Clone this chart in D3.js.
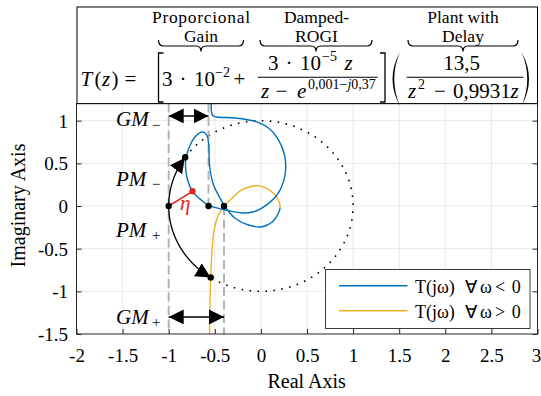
<!DOCTYPE html>
<html>
<head>
<meta charset="utf-8">
<script src="https://cdn.jsdelivr.net/npm/d3@7"></script>
<style>
  body { margin: 0; background: #fff; }
  svg { display: block; }
  text { font-family: "Liberation Serif", "Times New Roman", serif; fill: #000; }
</style>
</head>
<body>
<svg id="chart" width="541" height="396"></svg>
<script>
// Axis ticks
const xTicks = [-2, -1.5, -1, -0.5, 0, 0.5, 1, 1.5, 2, 2.5, 3];
const xTickLabels = ["-2", "-1.5", "-1", "-0.5", "0", "0.5", "1", "1.5", "2", "2.5", "3"];
const yTicks = [-1.5, -1, -0.5, 0, 0.5, 1];
const yTickLabels = ["-1.5", "-1", "-0.5", "0", "0.5", "1"];

// Nyquist locus T(e^{jω}) for ω < 0 (from ω = -π towards 0)
const negRe = [0.209, 0.191, 0.123, 0.014, -0.134, -0.279, -0.395, -0.441, -0.514, -0.555,
  -0.566, -0.582, -0.615, -0.653, -0.713, -0.767, -0.805, -0.818, -0.803, -0.742,
  -0.640, -0.566, -0.387, -0.206, -0.084, 0.014, 0.174, 0.245, 0.269, 0.256,
  0.191, 0.082, -0.062, -0.279, -0.474, -0.523, -0.537, -0.539, -0.539];
const negIm = [-0.018, -0.082, -0.188, -0.243, -0.223, -0.144, 0.000, 0.090, 0.246, 0.457,
  0.715, 0.821, 0.864, 0.862, 0.812, 0.715, 0.598, 0.481, 0.340, 0.172,
  0.064, 0.006, -0.047, -0.082, -0.070, -0.023, 0.129, 0.285, 0.445, 0.598,
  0.774, 0.914, 0.991, 1.032, 1.043, 1.061, 1.114, 1.243, 1.360];

// Nyquist locus T(e^{jω}) for ω > 0 (from ω = 0+ towards π)
const posRe = [-0.557, -0.557, -0.552, -0.542, -0.528, -0.507, -0.460, -0.395, -0.315, -0.206,
  -0.062, 0.047, 0.155, 0.202, 0.209];
const posIm = [-1.688, -1.501, -1.102, -0.785, -0.492, -0.281, -0.106, 0.000, 0.090, 0.188,
  0.238, 0.215, 0.129, 0.035, -0.018];

// Stability margins
const gmMinusRe = -0.568;     // crossing of the real axis, ω < 0
const gmPlusRe = -0.4;        // crossing of the real axis, ω > 0
const gmMinusArrowIm = 1.055;
const gmPlusArrowIm = -1.30;
const pmMinusAngle = 145.2;   // unit-circle crossing, degrees
const pmPlusAngle = -123;
const etaPoint = [-0.742, 0.172];

const legendLabels = ["T(jω) ∀ ω < 0", "T(jω) ∀ ω > 0"];
const colors = { neg: "#0072BD", pos: "#EDB120", eta: "#E3261F" };
const SERIF = "Liberation Serif, Times New Roman, serif";

const svg = d3.select("#chart");
const x = d3.scaleLinear().domain([-2, 3]).range([76.5, 537.5]);
const y = d3.scaleLinear().domain([-1.5, 1.2]).range([334, 103.6]);
const [x0, x1] = x.range();
const [y0, y1] = y.range();

const defs = svg.append("defs");
defs.append("clipPath").attr("id", "plotClip")
  .append("rect").attr("x", x0).attr("y", y1).attr("width", x1 - x0).attr("height", y0 - y1);
defs.append("marker").attr("id", "head")
  .attr("markerUnits", "userSpaceOnUse")
  .attr("markerWidth", 16).attr("markerHeight", 16)
  .attr("refX", 15).attr("refY", 7.5)
  .attr("orient", "auto-start-reverse")
  .append("path").attr("d", "M0,0 L15,7.5 L0,15 Z").attr("fill", "#000");

// Grid
const grid = svg.append("g");
grid.selectAll(".gx").data(xTicks.slice(1, -1)).join("line")
  .attr("x1", d => x(d)).attr("x2", d => x(d)).attr("y1", y0).attr("y2", y1)
  .attr("stroke", "#e4e4e4").attr("stroke-width", 0.8);
grid.selectAll(".gy").data(yTicks.slice(1)).join("line")
  .attr("y1", d => y(d)).attr("y2", d => y(d)).attr("x1", x0).attr("x2", x1)
  .attr("stroke", "#e4e4e4").attr("stroke-width", 0.8);

const plot = svg.append("g").attr("clip-path", "url(#plotClip)");

// Unit circle (dotted part)
const circ = a => [Math.cos(a * Math.PI / 180), Math.sin(a * Math.PI / 180)];
const lineXY = d3.line().x(d => x(d[0])).y(d => y(d[1]));
plot.append("path")
  .attr("d", lineXY(d3.range(pmMinusAngle, pmPlusAngle - 0.5, -1).map(circ)))
  .attr("fill", "none").attr("stroke", "#000").attr("stroke-width", 1.6)
  .attr("stroke-dasharray", "1.6,6.4");

// Dashed guides at -1 and the gain-margin crossings
const dashed = [[-1, 1.2, -1.5], [gmMinusRe, 1.2, 0], [gmPlusRe, 0, -1.5]];
plot.selectAll(".guide").data(dashed).join("line")
  .attr("x1", d => x(d[0])).attr("x2", d => x(d[0]))
  .attr("y1", d => y(d[1])).attr("y2", d => y(d[2]))
  .attr("stroke", "#b4b4b4").attr("stroke-width", 2).attr("stroke-dasharray", "9,4.5");

// Nyquist curves
const curve = d3.line().x(d => x(d[0])).y(d => y(d[1])).curve(d3.curveCatmullRom.alpha(0.5));
const negPts = negRe.map((r, i) => [r, negIm[i]]);
const posPts = posRe.map((r, i) => [r, posIm[i]]);
plot.append("path").attr("d", curve(posPts)).attr("fill", "none")
  .attr("stroke", colors.pos).attr("stroke-width", 1.4);
plot.append("path").attr("d", curve(negPts)).attr("fill", "none")
  .attr("stroke", colors.neg).attr("stroke-width", 1.4);

// Phase-margin arcs on the unit circle
plot.append("path")
  .attr("d", lineXY(d3.range(180, pmMinusAngle - 0.01, -0.5).map(circ)))
  .attr("fill", "none").attr("stroke", "#000").attr("stroke-width", 1.3)
  .attr("marker-end", "url(#head)");
plot.append("path")
  .attr("d", lineXY(d3.range(180, 360 + pmPlusAngle + 0.01, 0.5).map(circ)))
  .attr("fill", "none").attr("stroke", "#000").attr("stroke-width", 1.3)
  .attr("marker-end", "url(#head)");

// Gain-margin arrows
[[gmMinusRe, gmMinusArrowIm], [gmPlusRe, gmPlusArrowIm]].forEach(([re, im]) => {
  plot.append("line")
    .attr("x1", x(-1)).attr("x2", x(re)).attr("y1", y(im)).attr("y2", y(im))
    .attr("stroke", "#000").attr("stroke-width", 1.5)
    .attr("marker-start", "url(#head)").attr("marker-end", "url(#head)");
});

// Stability margin η
plot.append("line")
  .attr("x1", x(-1)).attr("y1", y(0)).attr("x2", x(etaPoint[0])).attr("y2", y(etaPoint[1]))
  .attr("stroke", colors.eta).attr("stroke-width", 1.5);

// Points
const blackDots = [[-1, 0], [gmMinusRe, 0], [gmPlusRe, 0], circ(pmMinusAngle), circ(pmPlusAngle)];
plot.selectAll(".dot").data(blackDots).join("circle")
  .attr("cx", d => x(d[0])).attr("cy", d => y(d[1])).attr("r", 3.2).attr("fill", "#000");
plot.append("circle").attr("cx", x(etaPoint[0])).attr("cy", y(etaPoint[1]))
  .attr("r", 3.2).attr("fill", colors.eta);

// Margin labels
function marginLabel(px, py, main, sub) {
  svg.append("text").attr("x", px).attr("y", py)
    .attr("font-size", 21).attr("font-style", "italic").text(main);
  svg.append("text").attr("x", px + 36).attr("y", py + 3.5)
    .attr("font-size", 15).text(sub);
}
marginLabel(116, 126, "GM", "−");
marginLabel(116, 185.5, "PM", "−");
marginLabel(116, 236.5, "PM", "+");
marginLabel(116, 323.5, "GM", "+");
svg.append("text").attr("x", 180).attr("y", 210).attr("font-size", 21)
  .attr("font-style", "italic").style("fill", colors.eta).text("η");

// Axes
const xAxis = svg.append("g").attr("transform", `translate(0,${y0})`)
  .call(d3.axisBottom(x).tickValues(xTicks).tickSize(-5).tickSizeOuter(0)
    .tickFormat((d, i) => xTickLabels[i]))
  .attr("font-family", SERIF).attr("font-size", 19);
xAxis.select(".domain").remove();
xAxis.selectAll("text").attr("y", 27.5).attr("dy", null)
  .style("font-family", SERIF).style("font-size", "19px").attr("fill", "#000");
xAxis.selectAll(".tick").filter(d => d === 3).select("text").attr("x", -1.5);
xAxis.selectAll("line").attr("stroke", "#262626");

const yAxis = svg.append("g").attr("transform", `translate(${x0},0)`)
  .call(d3.axisLeft(y).tickValues(yTicks).tickSize(-5).tickSizeOuter(0)
    .tickFormat((d, i) => yTickLabels[i]))
  .attr("font-family", SERIF).attr("font-size", 19);
yAxis.select(".domain").remove();
yAxis.selectAll("text").attr("x", -8.5).attr("dy", "0.34em")
  .style("font-family", SERIF).style("font-size", "19px").attr("fill", "#000");
yAxis.selectAll("line").attr("stroke", "#262626");

const yAxisR = svg.append("g").attr("transform", `translate(${x1},0)`)
  .call(d3.axisRight(y).tickValues(yTicks).tickSize(-5).tickSizeOuter(0).tickFormat(""));
yAxisR.select(".domain").remove();
yAxisR.selectAll("line").attr("stroke", "#262626");

svg.append("rect").attr("x", x0).attr("y", y1).attr("width", x1 - x0).attr("height", y0 - y1)
  .attr("fill", "none").attr("stroke", "#262626").attr("stroke-width", 1);

svg.append("text").attr("x", 306.7).attr("y", 388).attr("text-anchor", "middle")
  .attr("font-size", 20).text("Real Axis");
svg.append("text").attr("transform", "translate(24.5,205.5) rotate(-90)")
  .attr("text-anchor", "middle").attr("font-size", 20).text("Imaginary Axis");

// Legend
const lg = svg.append("g");
lg.append("rect").attr("x", 325.5).attr("y", 269.5).attr("width", 204.5).attr("height", 59)
  .attr("fill", "#fff").attr("stroke", "#262626").attr("stroke-width", 0.9);
[[colors.neg, 285.7, 293.3], [colors.pos, 310.7, 318.3]].forEach(([c, ly, ty], i) => {
  lg.append("line").attr("x1", 339).attr("x2", 407.5).attr("y1", ly).attr("y2", ly)
    .attr("stroke", c).attr("stroke-width", 1.6);
  const parts = legendLabels[i].split(" ");
  const px = [415, 465, 480, 495, 511.7];
  const t = lg.append("text").attr("y", ty).attr("font-size", 18);
  parts.forEach((p, k) => t.append("tspan").attr("x", px[k]).text(p));
});

// Transfer-function header
const hd = svg.append("g");
hd.append("rect").attr("x", 77).attr("y", 7).attr("width", 460.5).attr("height", 96.6)
  .attr("fill", "#fff").attr("stroke", "#000").attr("stroke-width", 1);

function tok(px, py, s, size, italic, anchor) {
  return hd.append("text").attr("x", px).attr("y", py).attr("font-size", size)
    .attr("font-style", italic ? "italic" : null).attr("text-anchor", anchor || "start").text(s);
}
function brace(xa, xb) {
  const yt = 40, yf = 46, yp = 51.5, r = 5, xm = (xa + xb) / 2;
  hd.append("path")
    .attr("d", `M${xa},${yt} Q${xa},${yf} ${xa + r},${yf} L${xm - r},${yf} Q${xm},${yf} ${xm},${yp}` +
      ` Q${xm},${yf} ${xm + r},${yf} L${xb - r},${yf} Q${xb},${yf} ${xb},${yt}`)
    .attr("fill", "none").attr("stroke", "#000").attr("stroke-width", 1.2);
}

const HL = 17.5;
tok(201, 22.5, "Proporcional", HL, false, "middle").attr("textLength", 98).attr("lengthAdjust", "spacing");
tok(201, 42, "Gain", HL, false, "middle");
tok(316.5, 22.5, "Damped-", HL, false, "middle");
tok(316.5, 42, "ROGI", HL, false, "middle");
tok(463, 22.5, "Plant with", HL, false, "middle");
tok(463, 42, "Delay", HL, false, "middle");
brace(158.5, 243.5);
brace(260, 372);
brace(408, 518);

const FS = 21, base = 86, num = 70, den = 97.5;
tok(80.5, base, "T", FS, true);
tok(94.5, base, "(", FS);
tok(102, base, "z", FS, true);
tok(111.5, base, ")", FS);
tok(124.5, base, "=", FS);
hd.append("path").attr("d", "M163.5,53 H158.5 V102 H163.5").attr("fill", "none")
  .attr("stroke", "#000").attr("stroke-width", 1.3);
tok(162, base, "3", FS);
tok(183, base, "·", FS, false, "middle");
tok(194, base, "10", FS);
tok(215, base - 9, "−2", 14);
tok(239.5, base, "+", FS, false, "middle");

tok(268, num, "3", FS);
tok(289, num, "·", FS, false, "middle");
tok(300, num, "10", FS);
tok(322, num - 9, "−5", 14);
tok(344.5, num, "z", FS, true);
hd.append("line").attr("x1", 257.7).attr("x2", 377.7).attr("y1", 77.3).attr("y2", 77.3)
  .attr("stroke", "#000").attr("stroke-width", 1.1);
tok(261, den, "z", FS, true);
tok(281.5, den, "−", FS, false, "middle");
tok(297, den, "e", FS, true);
const ex = hd.append("text").attr("x", 308).attr("y", den - 8.5).attr("font-size", 14);
ex.append("tspan").text("0,001−");
ex.append("tspan").attr("font-style", "italic").text("j");
ex.append("tspan").text("0,37");
hd.append("path").attr("d", "M380,53 H385 V102 H380").attr("fill", "none")
  .attr("stroke", "#000").attr("stroke-width", 1.3);

hd.append("path").attr("d", "M400,52 Q385,79 400,106 Q388.5,79 400,52 Z").attr("fill", "#000");
tok(461.5, num, "13,5", FS, false, "middle");
hd.append("line").attr("x1", 406.7).attr("x2", 523.3).attr("y1", 77.3).attr("y2", 77.3)
  .attr("stroke", "#000").attr("stroke-width", 1.1);
tok(408, den, "z", FS, true);
tok(418, den - 8.5, "2", 14);
tok(439.8, den, "−", FS, false, "middle");
tok(453, den, "0,9931", FS);
tok(510.5, den, "z", FS, true);
hd.append("path").attr("d", "M521.5,52 Q536.5,79 521.5,106 Q533,79 521.5,52 Z").attr("fill", "#000");
</script>
</body>
</html>
